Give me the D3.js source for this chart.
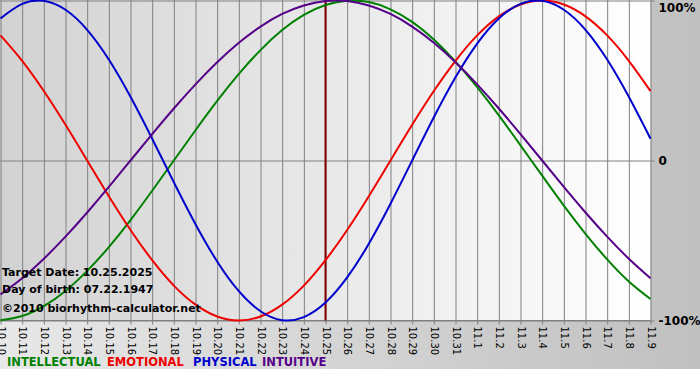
<!DOCTYPE html>
<html>
<head>
<meta charset="utf-8">
<script src="https://cdn.jsdelivr.net/npm/d3@7"></script>
<style>
  body { margin: 0; background: #fff; }
  svg { display: block; }
  text { font-family: "DejaVu Sans", Verdana, sans-serif; }
</style>
</head>
<body>
<svg id="chart" width="700" height="380"></svg>
<script>
// dates shown on the x axis (one per day)
var dates = ["10.10","10.11","10.12","10.13","10.14","10.15","10.16","10.17","10.18","10.19",
  "10.20","10.21","10.22","10.23","10.24","10.25","10.26","10.27","10.28","10.29",
  "10.30","10.31","11.1","11.2","11.3","11.4","11.5","11.6","11.7","11.8","11.9"];

// daily values, -1 .. 1
var physical = [0.888,0.979,0.998,0.942,0.817,0.631,0.398,0.136,-0.136,-0.398,
  -0.631,-0.817,-0.942,-0.998,-0.979,-0.888,-0.731,-0.520,-0.270,0,
  0.270,0.520,0.731,0.888,0.979,0.998,0.942,0.817,0.631,0.398,0.136];
var emotional = [0.782,0.623,0.434,0.223,0,-0.223,-0.434,-0.623,-0.782,-0.901,
  -0.975,-1,-0.975,-0.901,-0.782,-0.623,-0.434,-0.223,0,0.223,
  0.434,0.623,0.782,0.901,0.975,1,0.975,0.901,0.782,0.623,0.434];
var intellectual = [-0.999,-0.972,-0.910,-0.815,-0.690,-0.541,-0.372,-0.189,0,0.189,
  0.372,0.541,0.690,0.815,0.910,0.972,0.999,0.990,0.945,0.866,
  0.756,0.618,0.458,0.282,0.095,-0.095,-0.282,-0.458,-0.618,-0.756,-0.866];
var intuitive = [-0.837,-0.736,-0.614,-0.476,-0.325,-0.165,0,0.165,0.325,0.476,
  0.614,0.736,0.837,0.916,0.969,0.997,0.997,0.969,0.916,0.837,
  0.736,0.614,0.476,0.325,0.165,0,-0.165,-0.325,-0.476,-0.614,-0.736];

var targetIndex = 15;
var yTicks = [1, 0, -1];
var yTickLabels = ["100%", "0", "-100%"];

var series = [
  {name: "INTELLECTUAL", values: intellectual, color: "#008000"},
  {name: "EMOTIONAL", values: emotional, color: "#ee0000"},
  {name: "PHYSICAL", values: physical, color: "#0000cc"},
  {name: "INTUITIVE", values: intuitive, color: "#550088"}
];
var legendX = [7, 107, 193, 262];

var svg = d3.select("#chart");
var W = 700, H = 380;
var plotRight = 650.5, plotBottom = 320.5;

var defs = svg.append("defs");
var bgGrad = defs.append("linearGradient").attr("id", "bg");
bgGrad.append("stop").attr("offset", "0%").attr("stop-color", "#e8e8e8");
bgGrad.append("stop").attr("offset", "100%").attr("stop-color", "#c0c0c0");
var plotGrad = defs.append("linearGradient").attr("id", "plotbg");
plotGrad.append("stop").attr("offset", "0%").attr("stop-color", "#d2d2d2");
plotGrad.append("stop").attr("offset", "100%").attr("stop-color", "#ffffff");

svg.append("rect").attr("width", W).attr("height", H).attr("fill", "url(#bg)");
svg.append("rect").attr("y", 369).attr("width", W).attr("height", 11).attr("fill", "#fff");
svg.append("rect").attr("x", 0).attr("y", 0).attr("width", plotRight).attr("height", plotBottom)
  .attr("fill", "url(#plotbg)");

var x = d3.scaleLinear().domain([0, dates.length - 1]).range([0.5, plotRight]);
var y = d3.scaleLinear().domain([-1, 1]).range([plotBottom, 0.5]);

// vertical grid lines
svg.append("g")
  .attr("transform", `translate(0,${plotBottom})`)
  .call(d3.axisBottom(x).tickValues(d3.range(dates.length)).tickSize(-plotBottom).tickFormat(""))
  .call(g => g.select(".domain").remove())
  .call(g => g.selectAll("line").attr("stroke", "#808080"));

// horizontal grid lines
svg.append("g")
  .call(d3.axisLeft(y).tickValues(yTicks).tickSize(-plotRight).tickFormat(""))
  .call(g => g.select(".domain").remove())
  .call(g => g.selectAll("line").attr("stroke", "#808080"));

// x axis with rotated date labels
var xAxis = svg.append("g")
  .attr("transform", `translate(0,${plotBottom})`)
  .call(d3.axisBottom(x).tickValues(d3.range(dates.length)).tickSize(4).tickPadding(6)
    .tickFormat(i => dates[i]));
xAxis.select(".domain").attr("stroke", "#808080").attr("d", `M0.5,0H${plotRight}`);
xAxis.selectAll("line").attr("stroke", "#808080");
xAxis.selectAll("text")
  .attr("font-size", 10)
  .attr("font-family", "DejaVu Sans, Verdana, sans-serif")
  .attr("fill", "#000")
  .attr("text-anchor", "start")
  .attr("transform", "rotate(90)")
  .attr("x", 6)
  .attr("y", 0)
  .attr("dy", "0.35em");

// right axis labels
svg.append("g")
  .attr("transform", `translate(${plotRight},0)`)
  .call(d3.axisRight(y).tickValues(yTicks).tickSize(4).tickPadding(4)
    .tickFormat((d, i) => yTickLabels[i]))
  .call(g => g.select(".domain").remove())
  .call(g => g.selectAll("line").attr("stroke", "#808080"))
  .call(g => g.selectAll("text")
    .attr("font-size", 12).attr("font-weight", "bold")
    .attr("font-family", "DejaVu Sans, Verdana, sans-serif").attr("fill", "#000"))
  .call(g => g.selectAll(".tick").filter(d => d === 1).select("text").attr("dy", "0.9em"));

// target date marker
svg.append("line")
  .attr("x1", x(targetIndex)).attr("x2", x(targetIndex))
  .attr("y1", 0).attr("y2", plotBottom)
  .attr("stroke", "#800000").attr("stroke-width", 2);

// curves
var line = d3.line()
  .x((d, i) => x(i))
  .y(d => y(d))
  .curve(d3.curveNatural);

svg.append("g").selectAll("path")
  .data(series)
  .enter().append("path")
  .attr("d", d => line(d.values))
  .attr("fill", "none")
  .attr("stroke", d => d.color)
  .attr("stroke-width", 2);

// info text
var info = ["Target Date: 10.25.2025", "Day of birth: 07.22.1947", "\u00a92010 biorhythm-calculator.net"];
svg.append("g").selectAll("text")
  .data(info)
  .enter().append("text")
  .attr("x", 2)
  .attr("y", (d, i) => [276, 293, 312][i])
  .attr("font-size", 11)
  .attr("font-weight", "bold")
  .attr("fill", "#000")
  .text(d => d);

// legend
svg.append("g").selectAll("text")
  .data(series)
  .enter().append("text")
  .attr("x", (d, i) => legendX[i])
  .attr("y", 366)
  .attr("font-size", 11.5)
  .attr("font-weight", "bold")
  .attr("fill", d => d.color)
  .text(d => d.name);
</script>
</body>
</html>
